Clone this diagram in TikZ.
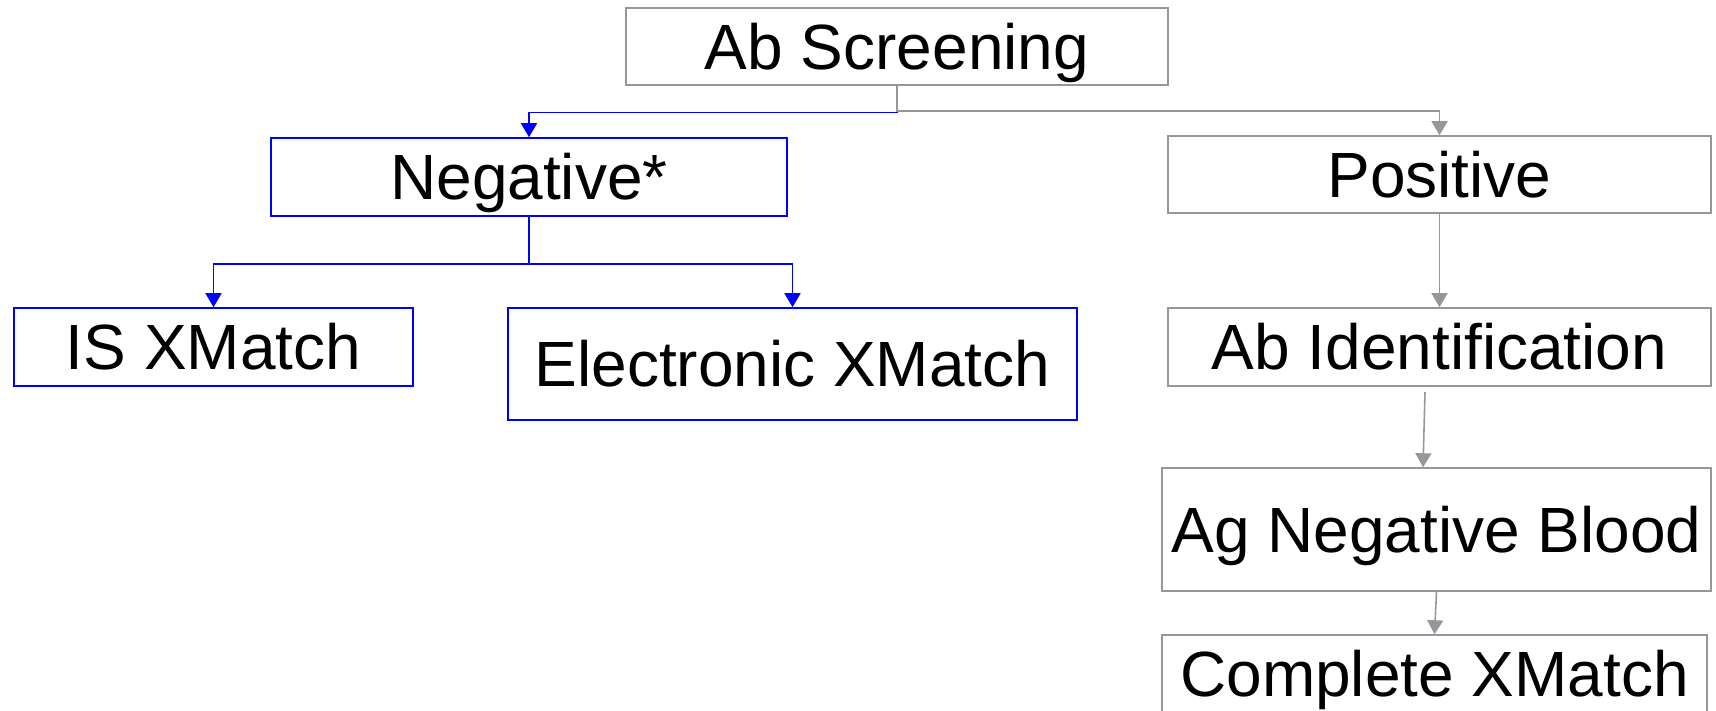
\documentclass[tikz,border=0pt]{standalone}
\usepackage{fontspec}
\setmainfont{Liberation Sans}
\usepackage{xcolor}
\usepackage{tikz}
\usetikzlibrary{arrows.meta}

\definecolor{flowgray}{RGB}{150,150,156}
\definecolor{flowblue}{RGB}{0,0,255}

\tikzset{
        box/.style={draw, rectangle, inner sep=0pt, line width=0.9pt,
                minimum height=1.56cm, text height=26pt, text depth=0pt,
                font=\fontsize{36.4}{44}\selectfont},
        graybox/.style={box, draw=flowgray},
        bluebox/.style={box, draw=flowblue},
        flowarrow/.style={line width=0.9pt, -{Triangle[width=0.32cm, length=0.28cm]}},
        grayarrow/.style={flowarrow, draw=flowgray},
        bluearrow/.style={flowarrow, draw=flowblue}
}

\begin{document}
\begin{tikzpicture}
        \useasboundingbox (0,0) rectangle (34.32,-14.2);

        \node[graybox, minimum width=10.84cm, minimum height=1.54cm] (screen) at (17.94, -0.93) {Ab Screening};
        \node[bluebox, minimum width=10.32cm] (neg) at (10.58, -3.54) {Negative*};
        \node[graybox, minimum width=10.86cm, minimum height=1.54cm] (pos) at (28.79, -3.49) {Positive};
        \node[bluebox, minimum width=7.98cm] (isx) at (4.27, -6.94) {IS XMatch};
        \node[bluebox, minimum width=11.38cm, minimum height=2.24cm] (elx) at (15.85, -7.28) {Electronic XMatch};
        \node[graybox, minimum width=10.86cm] (abid) at (28.79, -6.94) {Ab Identification};
        \node[graybox, minimum width=10.98cm, minimum height=2.46cm] (agneg) at (28.73, -10.59) {Ag Negative Blood};
        \node[graybox, minimum width=10.9cm] (compl) at (28.69, -13.48) {Complete XMatch};

        \draw[bluearrow] (screen.south) -- ++(0,-0.53) -| (neg.north);
        \draw[grayarrow] (screen.south) -- ++(0,-0.5) -| (pos.north);
        \draw[bluearrow] (neg.south) -- ++(0,-0.94) -| (isx.north);
        \draw[bluearrow] (neg.south) -- ++(0,-0.94) -| (elx.north);

        \draw[grayarrow] (pos) -- (abid);
        \draw[grayarrow] ([xshift=-0.29cm, yshift=-0.1cm]abid.south) -- ([xshift=-0.27cm]agneg.north);
        \draw[grayarrow] (agneg.south) -- (compl.north);
\end{tikzpicture}
\end{document}
